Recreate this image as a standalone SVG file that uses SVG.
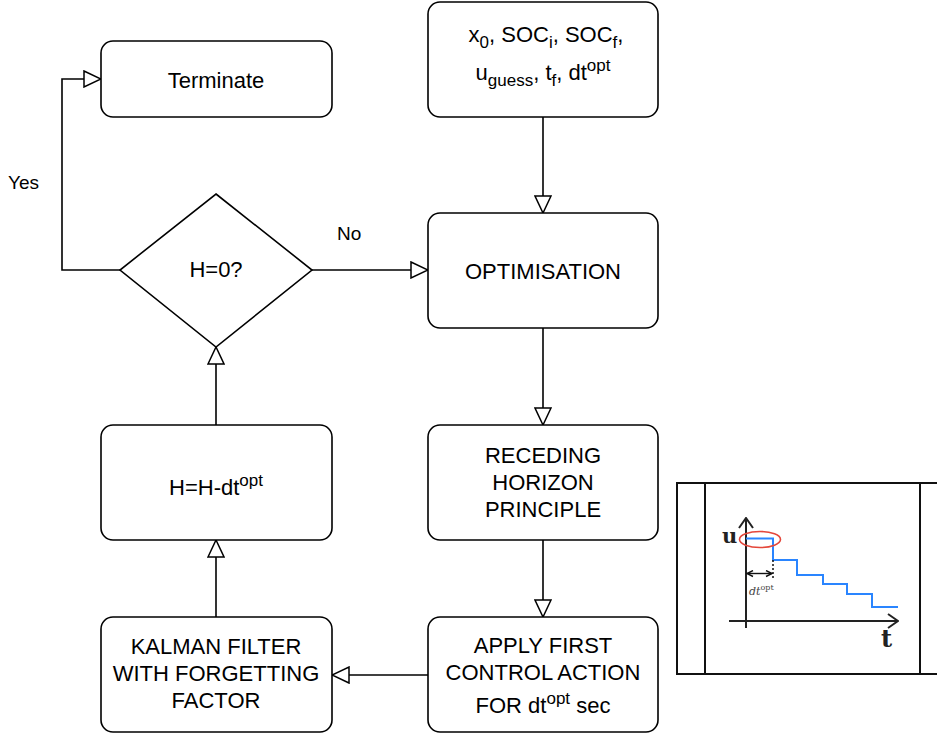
<svg xmlns="http://www.w3.org/2000/svg" width="937" height="737" viewBox="0 0 937 737">
  <style>
    .box { fill: #ffffff; stroke: #000000; stroke-width: 1.6; }
    .lbl { font-family: "Liberation Sans", Arial, Helvetica, sans-serif; font-size: 22px; fill: #000000; text-anchor: middle; }
    .edge-lbl { font-family: "Liberation Sans", Arial, Helvetica, sans-serif; font-size: 19px; fill: #000000; }
    .sm { font-size: 17px; }
    .edge { fill: none; stroke: #000000; stroke-width: 1.6; }
    .frame { fill: #ffffff; stroke: #111111; stroke-width: 2; }
    .axis { fill: none; stroke: #222222; stroke-width: 2; }
    .plot-serif { font-family: "DejaVu Serif", "Liberation Serif", serif; }
  </style>
  <defs>
    <marker id="open-tri" viewBox="0 0 19 18" refX="18" refY="9" markerWidth="19" markerHeight="18" markerUnits="userSpaceOnUse" orient="auto">
      <path d="M1,1 L18,9 L1,17 Z" fill="#ffffff" stroke="#000000" stroke-width="1.5" stroke-linejoin="miter"/>
    </marker>
    <marker id="axis-head" viewBox="0 0 12 16" refX="11" refY="8" markerWidth="12" markerHeight="16" markerUnits="userSpaceOnUse" orient="auto">
      <path d="M1,1 L11,8 L1,15" fill="none" stroke="#222222" stroke-width="2"/>
    </marker>
    <marker id="dim-head" viewBox="0 0 8 8" refX="7" refY="4" markerWidth="8" markerHeight="8" markerUnits="userSpaceOnUse" orient="auto-start-reverse">
      <path d="M1,1 L7,4 L1,7" fill="none" stroke="#111111" stroke-width="1.4"/>
    </marker>
  </defs>

  <rect width="937" height="737" fill="#ffffff"/>

  <!-- connectors -->
  <g id="connectors">
    <path class="edge" d="M543,117 L543,213" marker-end="url(#open-tri)"/>
    <path class="edge" d="M543,328 L543,425" marker-end="url(#open-tri)"/>
    <path class="edge" d="M543,540 L543,617" marker-end="url(#open-tri)"/>
    <path class="edge" d="M428,675 L332,675" marker-end="url(#open-tri)"/>
    <path class="edge" d="M216,617 L216,540" marker-end="url(#open-tri)"/>
    <path class="edge" d="M216,425 L216,347" marker-end="url(#open-tri)"/>
    <path class="edge" d="M312,270 L428,270" marker-end="url(#open-tri)"/>
    <path class="edge" d="M120,270 L62,270 L62,79 L101,79" marker-end="url(#open-tri)"/>
    <text class="edge-lbl" x="8" y="189">Yes</text>
    <text class="edge-lbl" x="337" y="240">No</text>
  </g>

  <!-- inputs -->
  <g id="node-inputs">
    <rect class="box" x="428" y="2" width="230" height="115" rx="12"/>
    <text class="lbl" x="546" y="42">x<tspan class="sm" dy="6">0</tspan><tspan dy="-6">, SOC</tspan><tspan class="sm" dy="6">i</tspan><tspan dy="-6">, SOC</tspan><tspan class="sm" dy="6">f</tspan><tspan dy="-6">,</tspan></text>
    <text class="lbl" x="543" y="80">u<tspan class="sm" dy="6">guess</tspan><tspan dy="-6">, t</tspan><tspan class="sm" dy="6">f</tspan><tspan dy="-6">, dt</tspan><tspan class="sm" dy="-9">opt</tspan></text>
  </g>

  <!-- terminate -->
  <g id="node-terminate">
    <rect class="box" x="101" y="41" width="231" height="76" rx="12"/>
    <text class="lbl" x="216" y="88">Terminate</text>
  </g>

  <!-- decision -->
  <g id="node-decision">
    <polygon class="box" points="216,194 312,270 216,347 120,270"/>
    <text class="lbl" x="216" y="277">H=0?</text>
  </g>

  <!-- optimisation -->
  <g id="node-optimisation">
    <rect class="box" x="428" y="213" width="230" height="115" rx="12"/>
    <text class="lbl" x="543" y="279">OPTIMISATION</text>
  </g>

  <!-- receding horizon -->
  <g id="node-receding">
    <rect class="box" x="428" y="425" width="230" height="115" rx="12"/>
    <text class="lbl" x="543" y="463">RECEDING</text>
    <text class="lbl" x="543" y="490">HORIZON</text>
    <text class="lbl" x="543" y="517">PRINCIPLE</text>
  </g>

  <!-- apply control -->
  <g id="node-apply">
    <rect class="box" x="428" y="617" width="230" height="115" rx="12"/>
    <text class="lbl" x="543" y="653">APPLY FIRST</text>
    <text class="lbl" x="543" y="680">CONTROL ACTION</text>
    <text class="lbl" x="543" y="713">FOR dt<tspan class="sm" dy="-9">opt</tspan><tspan dy="9"> sec</tspan></text>
  </g>

  <!-- kalman filter -->
  <g id="node-kalman">
    <rect class="box" x="101" y="617" width="231" height="115" rx="12"/>
    <text class="lbl" x="216" y="654">KALMAN FILTER</text>
    <text class="lbl" x="216" y="681">WITH FORGETTING</text>
    <text class="lbl" x="216" y="708">FACTOR</text>
  </g>

  <!-- horizon update -->
  <g id="node-update">
    <rect class="box" x="101" y="425" width="231" height="115" rx="12"/>
    <text class="lbl" x="216" y="495">H=H-dt<tspan class="sm" dy="-9">opt</tspan></text>
  </g>

  <!-- control profile sketch -->
  <g id="control-profile">
    <rect class="frame" x="677" y="483" width="280" height="191"/>
    <line x1="705" y1="483" x2="705" y2="674" stroke="#111111" stroke-width="2"/>
    <line x1="920" y1="483" x2="920" y2="674" stroke="#111111" stroke-width="2"/>
    <path class="axis" d="M746,628 L746,518" marker-end="url(#axis-head)"/>
    <path class="axis" d="M729,621 L898,621" marker-end="url(#axis-head)"/>
    <text class="plot-serif" x="722" y="543" font-size="21" font-weight="bold" fill="#222222">u</text>
    <text class="plot-serif" x="881" y="647" font-size="24" font-weight="bold" fill="#222222">t</text>
    <path d="M746,538.5 L773,538.5 L773,560 L797,560 L797,575 L823,575 L823,584 L847,584 L847,594 L872,594 L872,607 L898,607" fill="none" stroke="#2a85ff" stroke-width="2"/>
    <ellipse cx="760" cy="539.5" rx="20.5" ry="8" fill="none" stroke="#e4473b" stroke-width="1.6"/>
    <line x1="773" y1="560" x2="773" y2="580" stroke="#111111" stroke-width="1.5" stroke-dasharray="2,2"/>
    <line x1="747" y1="573.5" x2="772" y2="573.5" stroke="#111111" stroke-width="1.4" marker-start="url(#dim-head)" marker-end="url(#dim-head)"/>
    <text class="plot-serif" x="749" y="595" font-size="11" font-style="italic" fill="#444444">dt<tspan font-size="8" font-style="normal" dy="-5">opt</tspan></text>
  </g>
</svg>
